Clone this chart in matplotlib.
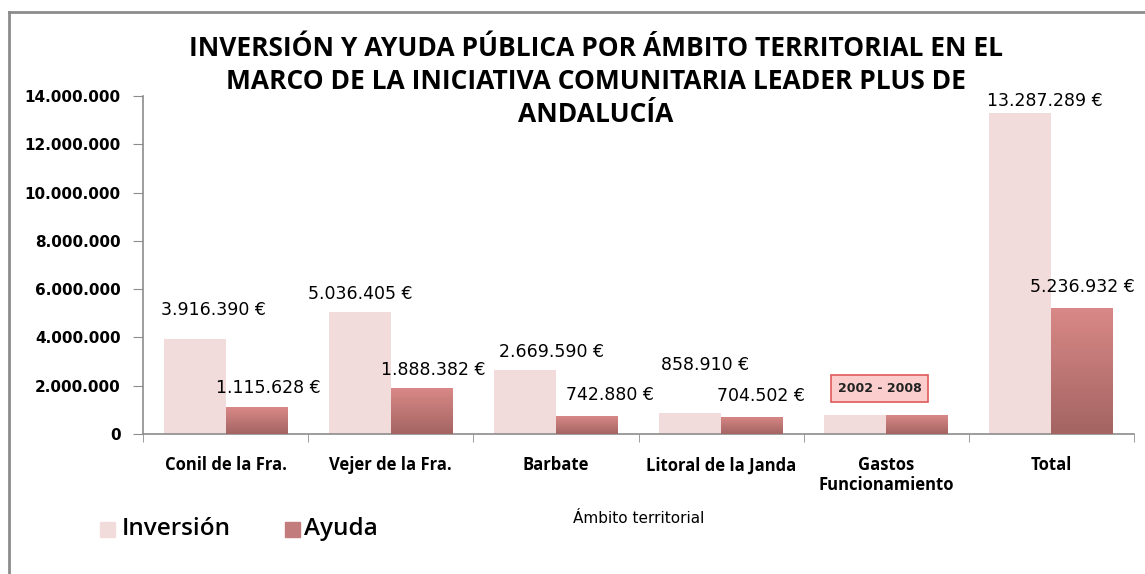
import numpy as np
import matplotlib
matplotlib.use('Agg')
import matplotlib.pyplot as plt
from matplotlib.colors import LinearSegmentedColormap
from matplotlib.lines import Line2D
from matplotlib.ticker import FuncFormatter

# datos
categorias = ['Conil de la Fra.', 'Vejer de la Fra.', 'Barbate', 'Litoral de la Janda',
              'Gastos\nFuncionamiento', 'Total']
inversion = [3916390, 5036405, 2669590, 858910, 805994, 13287289]
ayuda = [1115628, 1888382, 742880, 704502, 785540, 5236932]
con_etiqueta = [True, True, True, True, False, True]

titulo = ['INVERSIÓN Y AYUDA PÚBLICA POR ÁMBITO TERRITORIAL EN EL',
          'MARCO DE LA INICIATIVA COMUNITARIA LEADER PLUS DE',
          'ANDALUCÍA']

# ajustes de posicion de las etiquetas (pixeles)
nudge_inv = [(19, 29), (0, 18), (27, 18), (15, 48), (0, 0), (24, 12)]
nudge_ayu = [(12, 19), (12, 18), (23, 21), (9, 21), (0, 0), (0, 21)]


def miles(v, pos=None):
    return f'{int(v):,}'.replace(',', '.')


fig = plt.figure(figsize=(11.45, 5.74), dpi=100)
ax = fig.add_axes([143 / 1145, 140 / 574, 991 / 1145, 338 / 574])

x = np.arange(len(categorias))
w = 0.375
gris = '#8c8c8c'

b1 = ax.bar(x - w / 2, inversion, w, color='#F2DCDB', zorder=2)
b2 = ax.bar(x + w / 2, ayuda, w, color='#C27C7B', zorder=2)

# degradado de las barras de ayuda
cmap = LinearSegmentedColormap.from_list('ayuda', ['#A36462', '#D98987'])
grad = np.linspace(0, 1, 256).reshape(-1, 1)
for r in b2:
    x0, y0 = r.get_x(), r.get_y()
    im = ax.imshow(grad, cmap=cmap, origin='lower', aspect='auto',
                   extent=[x0, x0 + r.get_width(), y0, y0 + r.get_height()], zorder=3)
    im.set_clip_path(r)

ax.set_xlim(-0.5, len(categorias) - 0.5)
ax.set_ylim(0, 14000000)

for i in range(len(categorias)):
    if not con_etiqueta[i]:
        continue
    ax.annotate(miles(inversion[i]) + ' €', (x[i] - w / 2, inversion[i]),
                xytext=nudge_inv[i], textcoords='offset pixels',
                ha='center', va='center', fontsize=12.5, family='DejaVu Sans')
    ax.annotate(miles(ayuda[i]) + ' €', (x[i] + w / 2, ayuda[i]),
                xytext=nudge_ayu[i], textcoords='offset pixels',
                ha='center', va='center', fontsize=12.5, family='DejaVu Sans')

ax.text(3.96, 1.9e6, '2002 - 2008', ha='center', va='center', fontsize=9,
        fontweight='bold', color='#222222', zorder=5,
        bbox=dict(boxstyle='square,pad=0.55', facecolor='#FBCDCD', edgecolor='#E05A5A', lw=1.2))

# ejes
for s in ['top', 'right']:
    ax.spines[s].set_visible(False)
for s in ['left', 'bottom']:
    ax.spines[s].set_color(gris)
    ax.spines[s].set_linewidth(1.2)

ax.set_yticks(np.arange(0, 14000001, 2000000))
ax.yaxis.set_major_formatter(FuncFormatter(miles))
ax.tick_params(axis='y', length=7, color=gris, pad=9, labelsize=11)
for t in ax.get_yticklabels():
    t.set_fontweight('bold')

ax.set_xticks(x)
ax.set_xticklabels(categorias, fontsize=12, fontweight='bold', family='Open Sans',
                   linespacing=1.15)
ax.tick_params(axis='x', length=0, pad=16)
ax.set_xticks(np.arange(-0.5, len(categorias), 1), minor=True)
ax.tick_params(axis='x', which='minor', length=6, color=gris)

ax.set_xlabel('Ámbito territorial', fontsize=11, family='DejaVu Sans', labelpad=12)

# titulo, una linea cada vez
for k, linea in enumerate(titulo):
    fig.text(0.5205, 1 - (49 + 32.5 * k) / 574, linea, ha='center', va='center',
             fontsize=19, fontweight='bold', family='Open Sans')

# leyenda
fig.patches.append(plt.Rectangle((100 / 1145, 37 / 574), 15 / 1145, 15 / 574,
                                 transform=fig.transFigure, color='#F2DCDB'))
fig.patches.append(plt.Rectangle((285 / 1145, 37 / 574), 15 / 1145, 15 / 574,
                                 transform=fig.transFigure, color='#C27C7B'))
fig.text(122 / 1145, 45 / 574, 'Inversión', fontsize=17.5, family='Open Sans',
         fontweight='semibold', va='center')
fig.text(304 / 1145, 45 / 574, 'Ayuda', fontsize=17.5, family='Open Sans',
         fontweight='semibold', va='center')

# marco
fig.add_artist(Line2D([9 / 1145, 9 / 1145], [0, 1 - 12 / 574], color=gris, lw=2,
                      transform=fig.transFigure))
fig.add_artist(Line2D([9 / 1145, 1], [1 - 12 / 574, 1 - 12 / 574], color=gris, lw=2,
                      transform=fig.transFigure))

fig.savefig('out.png', dpi=100, facecolor='white')
